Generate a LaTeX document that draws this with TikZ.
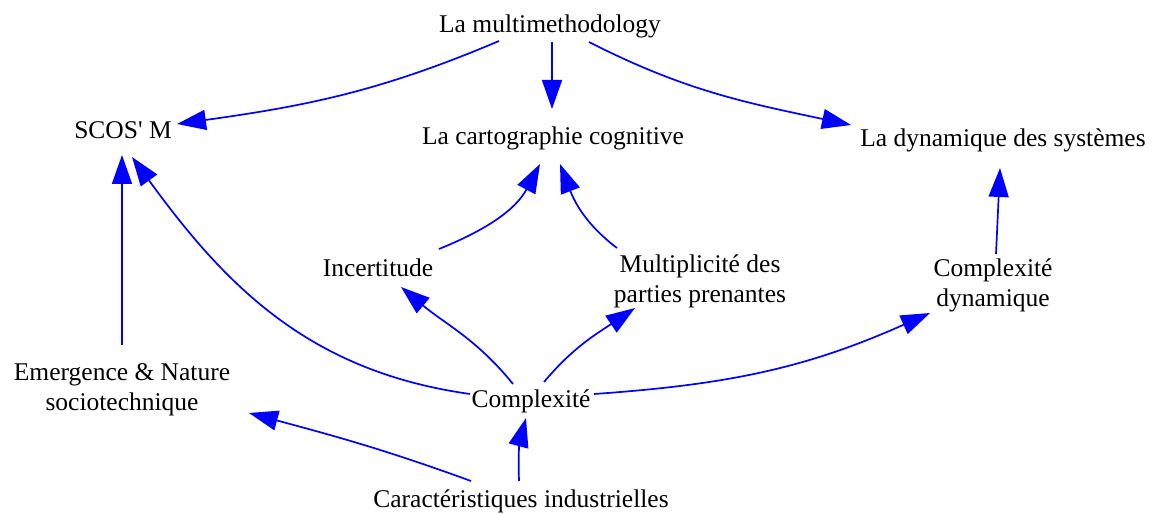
\documentclass[tikz,border=0pt]{standalone}
\usepackage{fontspec}
\setmainfont{Liberation Serif}[Ligatures=TeXOff]
\usetikzlibrary{arrows.meta}
\begin{document}
\begin{tikzpicture}[x=1pt,y=1pt,
  lbl/.style={anchor=base,inner sep=0pt,font=\fontsize{25.5}{29.5}\selectfont},
  link/.style={draw=blue,line width=1.7pt,-{Triangle[length=29pt,width=20pt]},fill=none}]
\useasboundingbox (0,0) rectangle (1157,514);
\node[lbl] (multi) at (550,481) {La multimethodology};
\node[lbl] (scos) at (123,375) {SCOS' M};
\node[lbl] (carto) at (553,369) {La cartographie cognitive};
\node[lbl] (dyn) at (1003,367) {La dynamique des systèmes};
\node[lbl] (incert) at (378,237) {Incertitude};
\node[lbl] (parties) at (700,241) {\begin{tabular}[t]{@{}c@{}}Multiplicité des\\parties prenantes\end{tabular}};
\node[lbl] (compdyn) at (993,237) {\begin{tabular}[t]{@{}c@{}}Complexité\\dynamique\end{tabular}};
\node[lbl] (emerg) at (122,133) {\begin{tabular}[t]{@{}c@{}}Emergence \& Nature\\sociotechnique\end{tabular}};
\node[lbl] (complex) at (531,106) {Complexité};
\node[lbl] (caract) at (521,6) {Caractéristiques industrielles};

\draw[link] ([shift={(-51,-8)}]multi.base) to[out=203,in=8] ([shift={(54,15)}]scos.base);
\draw[link] ([shift={(2,-9)}]multi.base) -- ([shift={(-1,36)}]carto.base);
\draw[link] ([shift={(39,-9)}]multi.base) to[out=-27,in=168] ([shift={(-152,22)}]dyn.base);
\draw[link] ([shift={(61,28)}]incert.base) to[out=22,in=242] ([shift={(-13,-19)}]carto.base);
\draw[link] ([shift={(-83,25)}]parties.base) to[out=143,in=-69] ([shift={(7,-19)}]carto.base);
\draw[link] ([shift={(3,23)}]compdyn.base) -- ([shift={(-3,-21)}]dyn.base);
\draw[link] ([shift={(0,36)}]emerg.base) -- ([shift={(-1,-16)}]scos.base);
\draw[link] ([shift={(-61,14)}]complex.base) to[out=172,in=-54] ([shift={(9,-18)}]scos.base);
\draw[link] ([shift={(-18,24)}]complex.base) to[out=129,in=-40] ([shift={(23,-10)}]incert.base);
\draw[link] ([shift={(13,26)}]complex.base) to[out=50,in=214] ([shift={(-65,-35)}]parties.base);
\draw[link] ([shift={(63,14)}]complex.base) to[out=4,in=204] ([shift={(-63,-36)}]compdyn.base);
\draw[link] ([shift={(-50,27)}]caract.base) to[out=160,in=-15] ([shift={(127,-32)}]emerg.base);
\draw[link] ([shift={(-2,27)}]caract.base) to[out=92,in=-105] ([shift={(-5,-10)}]complex.base);
\end{tikzpicture}
\end{document}
